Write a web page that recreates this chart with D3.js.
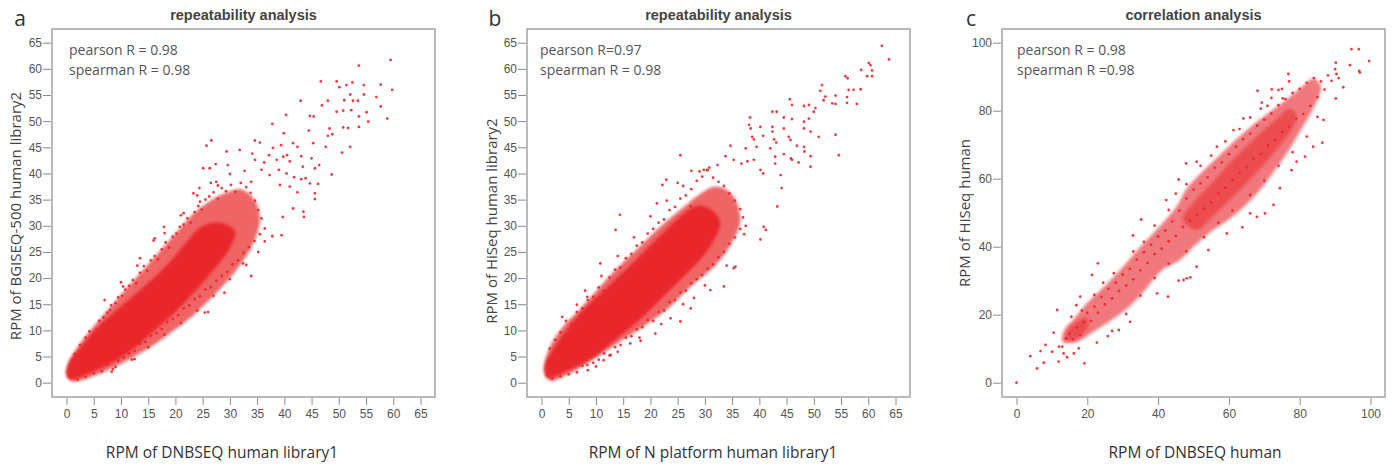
<!DOCTYPE html>
<html>
<head>
<meta charset="utf-8">
<script src="https://cdn.jsdelivr.net/npm/d3@7"></script>
<style>
  html, body { margin: 0; padding: 0; background: #fff; }
  svg { display: block; }
</style>
</head>
<body>
<svg id="chart" width="1392" height="466"></svg>
<script>
// tick values
var ticks65 = [0, 5, 10, 15, 20, 25, 30, 35, 40, 45, 50, 55, 60, 65];
var ticks100 = [0, 20, 40, 60, 80, 100];

// panel a: dense core, medium-density halo, and single points
var coreA = [[0.6,0.6],[3.7,1.6],[8,3.6],[12.2,6.4],[15.9,9.8],[19.6,13.2],[22.6,16.4],[25.4,19.6],[28,22.8],[30,25.8],[31,28.8],[29.5,30.2],[27,30.6],[24.5,29.6],[22,26.8],[19.4,23.6],[16.4,20.4],[13.4,17.6],[9.8,14.4],[6,10.9],[3,7.3],[0.5,4],[0,1.8]];
var haloA = [[0.3,3.5],[2,6.8],[5,10.8],[8,14.4],[11,18],[14,21.5],[17,25],[20,28.5],[23,32],[26,34.5],[29,36.2],[32,37],[34.5,35],[35.5,31],[34,26],[31.5,22],[29,18.8],[26,15.6],[23,12.6],[20,10.2],[16,7.2],[12,4.7],[8,2.6],[4,0.9],[1,0.3],[0,1.5]];
var pointsA = [
  [59.5,61.7],[53.7,60.6],[46.7,57.6],[49.6,57.6],[50.1,56.5],[51.4,56.9],[52.5,57.4],[54.6,56.9],[57.7,57.0],[59.8,56.0],
  [56.9,54.6],[52.1,55.1],[51.0,54.0],[52.6,53.9],[53.5,53.9],[54.6,55.1],[43.0,53.9],[48.0,53.9],[46.9,53.0],[49.6,51.8],
  [50.8,52.0],[52.3,52.1],[57.7,52.8],[40.3,51.2],[44.7,51.0],[45.4,50.9],[53.7,50.9],[55.1,51.7],[58.9,50.5],[55.4,49.9],
  [37.8,49.5],[50.8,48.8],[51.7,48.7],[53.7,48.9],[48.3,48.6],[44.5,48.2],[39.9,47.7],[48.8,47.5],[48.0,47.2],[45.3,45.8],
  [52.1,45.1],[47.6,45.1],[50.6,44.0],[34.6,46.3],[35.5,45.9],[37.9,44.9],[39.4,45.4],[41.6,45.8],[42.4,45.1],[25.7,45.3],
  [26.6,46.3],[29.4,44.2],[31.8,44.5],[34.1,43.8],[37.2,43.5],[39.8,43.2],[40.5,43.5],[43.1,43.3],[45.0,42.9],[34.6,42.6],
  [36.3,42.1],[38.6,42.6],[41.0,42.3],[27.4,41.8],[29.6,41.6],[43.4,41.3],[45.6,41.0],[46.4,41.6],[25.1,41.0],[30.0,39.9],
  [32.7,40.5],[35.8,40.7],[37.3,39.7],[39.0,40.7],[40.4,40.0],[48.7,39.8],[41.8,39.3],[43.1,38.9],[43.9,39.1],[44.7,38.1],
  [46.2,38.0],[26.5,38.2],[27.8,37.7],[33.9,38.4],[39.2,37.8],[41.0,37.5],[42.4,36.4],[45.6,36.2],[23.3,36.2],[24.4,37.2],
  [45.6,35.1],[43.5,32.7],[41.6,33.3],[39.7,31.7],[43.6,31.7],[39.5,28.2],[36.4,27.0],[37.8,28.0],[35.2,25.0],[32.4,22.8],
  [33.9,20.4],[25.4,13.4],[26.3,41.0],[24.5,34.6],[21.5,32.4],[17.9,29.8],[16.2,27.6],[13.5,23.8],[10.4,18.4],[8.0,13.9],
  [4.9,8.8],[12.5,4.5],[8.3,2.1],
  [1.5,5.5],[2.5,7.2],[3.5,8.6],[4.2,9.8],[5.5,10.2],[6,11.8],[6.8,12.5],[7.5,13.4],[8.2,14.8],[9,15.2],
  [9.5,16.3],[10.2,16.6],[10.8,17.8],[11.5,18.5],[12.2,19.6],[12.8,19],[13.5,21],[14.2,22.3],[14.8,21.4],[15.5,23.4],
  [16.2,24.2],[16.8,23.6],[17.5,25.5],[18.2,26.8],[18.8,25.8],[19.5,27.9],[20.2,28.5],[20.8,29.8],[21.5,30.2],[22.2,31.4],
  [22.8,30.6],[23.5,32.6],[24.2,33.8],[24.8,33.1],[25.5,35],[26.2,35.6],[27,36.4],[27.8,35.2],[28.5,37.2],[29.3,36.6],
  [30.2,37.8],[31,36.5],[32,38.2],[33,37.4],[33.8,36.3],[34.6,34.8],[35.2,33],[35.8,31.4],[36.4,29.5],[7,15.8],
  [10,19.2],[13,22.4],[16,27.2],[18,28.6],[21,32],[24,35.8],[27.5,38.4],
  [2,0.6],[3.5,1.1],[5,1.8],[6.5,2.2],[7.5,3.5],[8.5,2.6],[9.5,4.2],[10.5,4.8],[11.5,5.6],[12.5,6.1],
  [13.5,7.4],[14.5,7.8],[15.5,9],[16.5,9.5],[17.5,10.3],[18.5,11.6],[19.5,12.2],[20.5,12.9],[21.5,14.2],[22.5,14.8],
  [23.5,16],[24.5,16.5],[25.5,17.8],[26.5,18.3],[27.5,19.5],[28.5,20.4],[29.5,21.2],[30.5,22.6],[31.5,23.4],[32.5,24.8],
  [33.5,25.9],[34.5,27.1],[35.5,28.4],[9,3],[12,4.4],[15,6.8],[18,9.2],[21,11.4],[24,13.8],[27,16.6],
  [30,19.8],[33,22.5],[29,17.2],[26,13.5]
];

// panel b
var coreB = [[1,1],[5.3,2.5],[10.2,5.3],[14.5,9],[18.8,12.8],[22.5,16.6],[26.1,20.3],[29.2,23.6],[31.5,27],[32.8,30.5],[31.5,32.8],[28.6,33.8],[25.5,31.8],[22.3,28.6],[18.6,24.8],[14.9,21],[11.2,17.4],[7.6,13.9],[4.5,10],[1.9,6],[0.6,3.2]];
var haloB = [[0.5,2.5],[1.5,6.8],[4,10.8],[7,14],[10,17.5],[14,22],[18,26],[22,30],[26,33.5],[29,36],[32,37.5],[35,36],[36.5,31],[34.5,26],[31.5,22],[27.5,18.5],[23,14],[18.5,10.6],[14,7.6],[10,4.8],[7,2.8],[4,1.2],[1.5,0.4]];
var pointsB = [
  [62.5,64.4],[63.8,61.8],[60.1,61.1],[60.4,60.7],[59.8,58.6],[60.7,58.6],[60.7,59.7],[58.7,59.8],[55.8,58.6],[56.2,58.2],
  [56.4,56.0],[57.3,56.0],[58.6,56.1],[51.5,56.9],[51.2,55.8],[52.1,54.7],[51.8,54.0],[54.0,54.9],[53.4,53.4],[54.0,53.3],
  [56.1,54.6],[56.1,53.5],[57.9,53.3],[45.6,54.2],[46.0,53.1],[48.2,52.9],[50.3,52.5],[50.0,51.8],[49.1,53.1],[42.4,51.8],
  [43.2,51.8],[44.5,50.7],[46.0,50.4],[48.2,49.9],[49.1,50.5],[38.3,50.7],[38.1,49.3],[38.4,48.6],[40.2,48.9],[42.4,48.9],
  [42.4,48.0],[44.5,48.6],[48.2,48.6],[49.4,48.0],[50.9,47.0],[54.0,47.4],[38.7,47.0],[39.0,46.5],[40.7,47.2],[42.7,46.5],
  [43.1,45.9],[45.4,47.0],[45.7,46.4],[34.7,45.3],[37.5,44.8],[39.5,45.1],[42.0,44.8],[42.9,43.2],[44.5,43.7],[46.9,45.3],
  [48.2,45.1],[48.3,44.2],[49.4,43.3],[45.8,42.9],[46.0,42.6],[47.2,42.1],[49.4,41.3],[54.6,43.5],[25.5,43.5],[33.8,43.3],
  [35.3,42.6],[36.7,41.9],[37.8,42.3],[39.0,42.6],[40.2,40.7],[40.7,40.0],[42.9,41.9],[43.9,39.7],[44.1,37.2],[43.3,33.7],
  [40.8,29.8],[41.2,29.2],[40.2,27.4],[29.8,40.7],[30.4,40.7],[27.5,40.5],[32.3,41.6],[22.2,37.8],[22.9,38.8],[21.2,34.3],
  [27.4,33.7],[14.4,32.1],[13.6,29.2],[10.8,22.8],[3.8,12.6],[6.5,14.9],[8.4,16.4],[35.6,22.2],[35.3,21.9],[33.5,18.4],
  [31.0,17.7],[25.5,11.7],[27.4,14.2],[23.7,12.3],[20.9,9.4],[16.3,7.5],[18.2,8.0],[12.7,5.3],[11.4,4.3],[8.4,3.4],
  [1.5,6.5],[2.5,8.2],[3.5,9.6],[4.5,11.8],[5.5,11.2],[6.5,13.5],[7.5,14.2],[8.5,15.8],[9.5,16.4],[10.5,18.2],
  [11.5,17.6],[12.5,20.1],[13.5,21.6],[14.5,22],[15.5,23.8],[16.5,24.6],[17.5,26.2],[18.5,26.8],[19.5,28.5],[20.5,29.4],
  [21.5,30.6],[22.5,31.2],[23.5,33],[24.5,33.6],[25.5,35.2],[26.5,35.8],[27.5,37],[28.5,38.6],[29.5,39.4],[30.5,40.6],
  [31.5,39.2],[32.5,38.4],[33.5,37.6],[34.5,36.2],[35.5,34.8],[36.5,33.2],[37,31.6],[37.5,30],[37.2,28.4],[8,17.6],
  [11,20.4],[14,24.2],[17,27.8],[20,31.8],[23,34.8],[26,37.6],[29,40.4],[30.8,41.1],[25,38.2],
  [2,0.8],[3.5,1.2],[5,1.6],[6.5,2],[7.5,3.2],[8.5,2.4],[9.5,3.8],[10.5,4.4],[11.5,5.6],[12.5,5.2],
  [13.5,6.8],[14.5,7.2],[15.5,8.6],[16.5,8.9],[17.5,10.2],[18.5,10.6],[19.5,12],[20.5,11.8],[21.5,13.5],[22.5,13.8],
  [23.5,15.4],[24.5,15.8],[25.5,17.2],[26.5,17.6],[27.5,19],[28.5,19.8],[29.5,20.6],[30.5,21.8],[31.5,22.6],[32.5,24],
  [33.5,25],[34.5,26.6],[35.5,27.8],[36.5,29.4],[10,3.1],[14,5.9],[18,8.6],[22,11.2],[26,15],[30,18.6],
  [34,22.4],[28,16.2]
];

// panel c
var haloC = [[13,12],[13.5,15.5],[16,18.5],[20,23.5],[25,28.5],[30,34],[35,40],[40,45.5],[45,51.5],[48,57],[52,61.5],[57,66.5],[62,71.5],[67,76],[72,80],[76,83],[80,86.5],[84,89.5],[86,87],[84,81],[81,75.5],[77,68.5],[73,62.5],[69,57],[65,52.5],[60,48],[55,44.5],[50,40],[46,36],[41,33],[36.5,27.5],[32,22.5],[27,18.5],[21,14.5],[17,12]];
var coreC = [[47,48],[50,53],[54,57.5],[58,62],[62,66.5],[66,70.5],[70,74.5],[74,78],[77,80.5],[79,79],[78,75],[75,70.5],[71,65.5],[67,61],[63,56.5],[59,52.5],[55,48.5],[51,45]];
var clusterC = [[14,12.5],[14.5,15.5],[17,18],[20,19],[20,16],[18,13.5]];
var pointsC = [
  [0,0],[3.9,7.8],[5.8,4.2],[6.8,9.3],[7.7,5.9],[8.2,11.1],[10.1,9.1],[10.5,14.7],[11.9,6.2],[11.5,21.4],
  [12.9,10.6],[14.3,7.5],[13.3,8.6],[16.2,8.6],[17.6,10.1],[19.2,5.7],[94.6,98.1],[96.7,98.1],[99.6,94.6],[96.8,91.7],
  [97.0,91.2],[94.2,93.4],[90.2,94.1],[90.4,90.8],[92.3,86.9],[90.2,83.6],[86.7,77.3],[86.4,70.6],[83.8,69.4],[76.8,90.8],
  [69.3,82.4],[68.1,85.9],[72.1,86.3],[74.0,86.1],[70.9,81.4],[75.2,83.6],[64.1,77.7],[61.3,74.3],[56.6,69.4],[47.9,64.5],
  [50.9,65.0],[45.8,59.8],[42.3,53.7],[35.2,48.0],[32.9,43.3],[23.0,35.1],[21.3,31.7],[18.0,25.3],[16.9,22.8],[47.2,30.2],
  [48.1,30.7],[49.1,31.0],[45.8,30.0],[50.9,34.1],[54.2,39.0],[42.8,25.3],[39.7,26.3],[32.1,17.9],[28.9,15.5],[25.8,13.7],
  [22.7,11.8],[63.8,45.7],[59.4,43.9],[66.0,49.8],[67.9,48.8],[70.2,49.8],[72.6,52.3],[74.4,57.2],[77.7,62.5],[79.1,65.0],
  [81.5,66.5],
  [14,13],[15,14.5],[16,12.8],[17,16.2],[18,14],[19,17.8],[20,20.5],[21,18.2],[22,22.4],[23,20.6],
  [24,25.2],[25,23],[26,27.6],[27,24.8],[28,29.4],[29,27],[30,31.8],[31,28.6],[32,33.5],[33,30.4],
  [34,36.2],[35,33],[36,38.4],[37,35.2],[38,40.6],[39,37.8],[40,43],[41,39.4],[42,44.8],[43,41.6],
  [44,47.4],[45,43.2],[46,50.6],[47,45.8],[48,54.2],[49,47.6],[50,56.8],[51,49.4],[52,58.6],[53,51.2],
  [54,60.4],[55,53],[56,63.2],[57,55.8],[58,64.8],[59,57.4],[60,67.2],[61,59.6],[62,69.4],[63,61.8],
  [64,71.6],[65,63.4],[66,73.2],[67,65.8],[68,75.6],[69,67.2],[70,77.4],[71,69.8],[72,79.2],[73,71.4],
  [74,81.6],[75,73.8],[76,83.4],[77,75.2],[78,85.2],[79,77.6],[80,86.4],[81,79],[82,88.2],[83,81.4],
  [84,89.6],[85,84],[86,88.6],[87,86.2],[88,90.4],[89,88.8],[90,92.2],[91,89.6],
  [12,10.6],[15.5,19.4],[18.5,21.2],[22,25.8],[24.5,29.4],[27.5,32.2],[33,38.6],[36,41.4],[39,46.2],[43,50.8],
  [45,55.6],[48,58.4],[52,63.8],[55,66.8],[59,71],[63,74.6],[66,78],[69,80.6],[72,83.8],[75,86.4],
  [77,88.6],[27,15.2],[31,20.2],[35,25.6],[39,30.8],[43,35],[48,38.6],[53,42.8],[57,47],[61,50.6],
  [66,55.2],[70,59.4],[74,63.8],[78,67.8],[82,72.4],[85,78.2]
];

var red = '#e9272b';
var svg = d3.select('#chart');

// soft edge for the density layers
svg.append('defs').append('filter')
  .attr('id', 'soft')
  .attr('x', '-10%').attr('y', '-10%').attr('width', '120%').attr('height', '120%')
  .append('feGaussianBlur')
  .attr('stdDeviation', 1.6);

function drawPanel(p) {
  var top = 29, bottom = 397;
  var g = svg.append('g');

  // scales: the data range sits ~14px inside the frame
  var x = d3.scaleLinear().domain(p.xDomain).range([p.left + 14.5, p.right - 14.5]);
  var y = d3.scaleLinear().domain(p.yDomain).range([bottom - 14.3, top + 13.7]);

  // clip so nothing leaks past the frame
  g.append('clipPath').attr('id', 'clip_' + p.name)
    .append('rect')
    .attr('x', p.left).attr('y', top)
    .attr('width', p.right - p.left).attr('height', bottom - top);

  var plot = g.append('g').attr('clip-path', 'url(#clip_' + p.name + ')');

  var area = d3.line()
    .x(function(d) { return x(d[0]); })
    .y(function(d) { return y(d[1]); })
    .curve(d3.curveCatmullRomClosed);

  // density layers
  p.layers.forEach(function(l) {
    plot.append('path')
      .attr('d', area(l.data))
      .attr('fill', red)
      .attr('fill-opacity', l.opacity)
      .attr('filter', l.soft ? 'url(#soft)' : null);
  });

  // single points
  plot.selectAll('circle')
    .data(p.points)
    .enter()
    .append('circle')
    .attr('cx', function(d) { return x(d[0]); })
    .attr('cy', function(d) { return y(d[1]); })
    .attr('r', 1.4)
    .attr('fill', red)
    .attr('fill-opacity', 0.9);

  // frame
  g.append('rect')
    .attr('x', p.left).attr('y', top)
    .attr('width', p.right - p.left).attr('height', bottom - top)
    .attr('fill', 'none')
    .attr('stroke', '#a3a3a3')
    .attr('stroke-width', 1.5);

  // axes
  var xAxis = g.append('g')
    .attr('transform', 'translate(0,' + (bottom + 1) + ')')
    .call(d3.axisBottom(x).tickValues(p.xTicks).tickSize(7).tickPadding(4));
  var yAxis = g.append('g')
    .attr('transform', 'translate(' + (p.left - 1) + ',0)')
    .call(d3.axisLeft(y).tickValues(p.yTicks).tickSize(8).tickPadding(1));

  [xAxis, yAxis].forEach(function(a) {
    a.select('.domain').remove();
    a.selectAll('line').attr('stroke', '#8a8a8a');
    a.selectAll('text')
      .attr('fill', '#555')
      .style('font-family', '"Liberation Sans", Arial, sans-serif')
      .style('font-size', '12px');
  });

  // title
  g.append('text')
    .attr('x', (p.left + p.right) / 2).attr('y', 20)
    .attr('text-anchor', 'middle')
    .style('font-family', '"Liberation Sans", Arial, sans-serif')
    .style('font-weight', 'bold')
    .style('font-size', '14.5px')
    .attr('fill', '#444')
    .text(p.title);

  // panel letter
  g.append('text')
    .attr('x', p.letterX).attr('y', 26)
    .attr('text-anchor', 'middle')
    .style('font-family', '"Open Sans", sans-serif')
    .style('font-size', '21px')
    .attr('fill', '#333')
    .text(p.letter);

  // correlation notes
  p.notes.forEach(function(t, i) {
    g.append('text')
      .attr('x', p.left + p.noteDx).attr('y', 55 + i * 20)
      .style('font-family', '"Open Sans", sans-serif')
      .style('font-size', '14px')
      .attr('fill', '#555')
      .text(t);
  });

  // axis titles
  g.append('text')
    .attr('x', p.xLabelX).attr('y', 458)
    .attr('text-anchor', 'middle')
    .style('font-family', '"Open Sans", sans-serif')
    .style('font-size', '15.5px')
    .attr('fill', '#333')
    .text(p.xLabel);

  g.append('text')
    .attr('transform', 'translate(' + p.yLabelX + ',' + p.yLabelY + ') rotate(-90)')
    .attr('text-anchor', 'middle')
    .style('font-family', '"Open Sans", sans-serif')
    .style('font-size', '15px')
    .attr('fill', '#444')
    .text(p.yLabel);
}

drawPanel({
  name: 'a', letter: 'a', letterX: 20, left: 52, right: 435,
  xDomain: [0, 65], yDomain: [0, 65], xTicks: ticks65, yTicks: ticks65,
  title: 'repeatability analysis',
  notes: ['pearson R = 0.98', 'spearman R = 0.98'], noteDx: 17,
  xLabel: 'RPM of DNBSEQ human library1', xLabelX: 222,
  yLabel: 'RPM of BGISEQ-500 human library2', yLabelX: 21, yLabelY: 216,
  layers: [{ data: haloA, opacity: 0.72, soft: true }, { data: coreA, opacity: 1, soft: true }],
  points: pointsA
});

drawPanel({
  name: 'b', letter: 'b', letterX: 495, left: 527, right: 910,
  xDomain: [0, 65], yDomain: [0, 65], xTicks: ticks65, yTicks: ticks65,
  title: 'repeatability analysis',
  notes: ['pearson R=0.97', 'spearman R = 0.98'], noteDx: 13,
  xLabel: 'RPM of N platform human library1', xLabelX: 713,
  yLabel: 'RPM of HiSeq human library2', yLabelX: 497, yLabelY: 221,
  layers: [{ data: haloB, opacity: 0.72, soft: true }, { data: coreB, opacity: 1, soft: true }],
  points: pointsB
});

drawPanel({
  name: 'c', letter: 'c', letterX: 971, left: 1002, right: 1385,
  xDomain: [0, 100], yDomain: [0, 100], xTicks: ticks100, yTicks: ticks100,
  title: 'correlation analysis',
  notes: ['pearson R = 0.98', 'spearman R =0.98'], noteDx: 15,
  xLabel: 'RPM of DNBSEQ human', xLabelX: 1195,
  yLabel: 'RPM of HiSeq human', yLabelX: 970, yLabelY: 213,
  layers: [{ data: haloC, opacity: 0.62, soft: true }, { data: coreC, opacity: 0.55, soft: true }, { data: clusterC, opacity: 0.55, soft: true }],
  points: pointsC
});
</script>
</body>
</html>
